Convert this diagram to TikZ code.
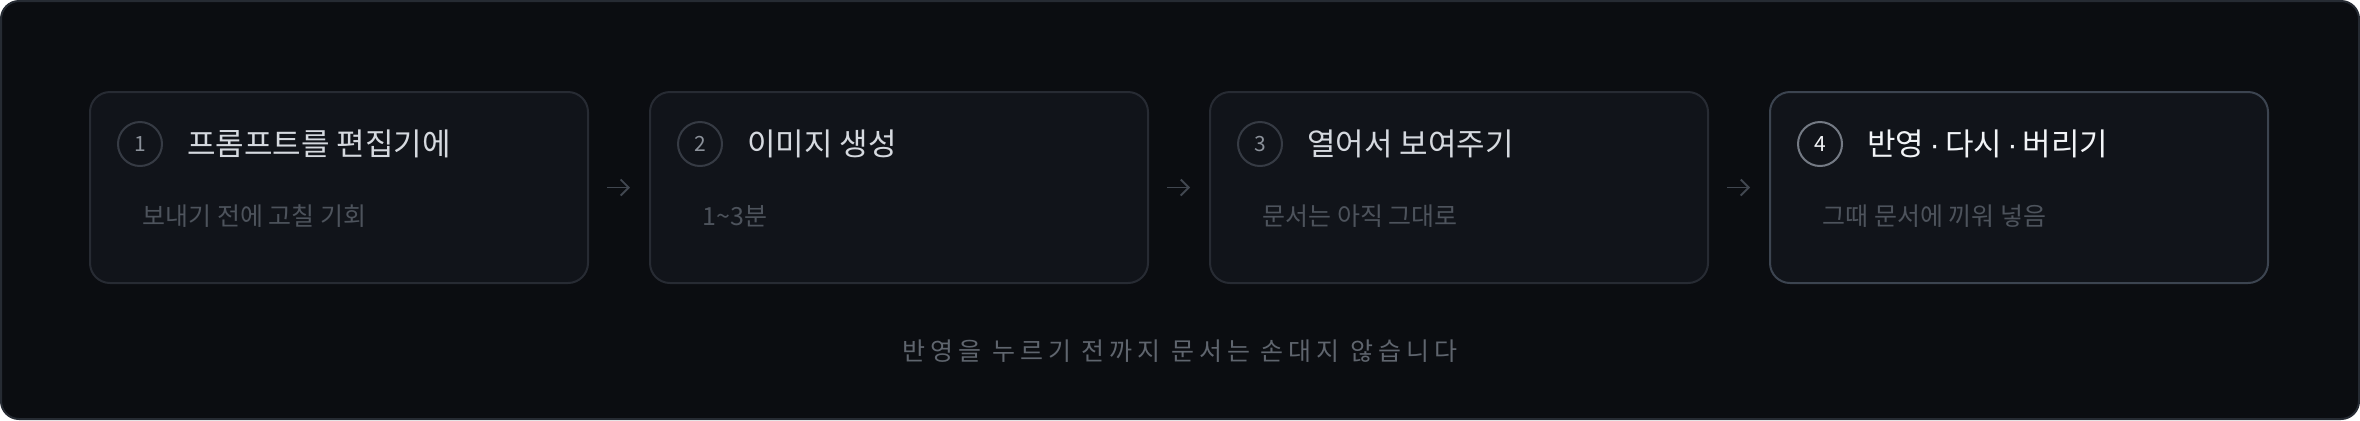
\documentclass[tikz,border=0pt]{standalone}
\usepackage{fontspec}
\setmainfont{Noto Sans CJK KR}
\newfontfamily\spacedfont[LetterSpace=20]{Noto Sans CJK KR}
\newfontfamily\dotfont{Liberation Sans}
\usetikzlibrary{positioning,arrows.meta}

\definecolor{panelbg}{HTML}{0B0D11}
\definecolor{panelline}{HTML}{262B33}
\definecolor{boxfill}{HTML}{11141A}
\definecolor{boxline}{HTML}{272B33}
\definecolor{boxlit}{HTML}{3C4450}
\definecolor{ringline}{HTML}{363B44}
\definecolor{ringlit}{HTML}{747A84}
\definecolor{numgray}{HTML}{8B919A}
\definecolor{headgray}{HTML}{D5D9DF}
\definecolor{headlit}{HTML}{F2F4F7}
\definecolor{bodygray}{HTML}{4D535C}
\definecolor{arrowgray}{HTML}{414750}
\definecolor{footgray}{HTML}{5F656E}

\newcommand{\middot}{{\dotfont\,·\,}}

\tikzset{
  step box/.style={
    rectangle,
    rounded corners=10pt,
    fill=boxfill,
    line width=1pt,
    minimum width=249pt,
    minimum height=95.5pt,
    inner sep=0pt,
  },
  box dim/.style={draw=boxline},
  box lit/.style={draw=boxlit},
  num ring/.style={
    circle,
    line width=1pt,
    minimum size=22pt,
    inner sep=0pt,
    font=\fontsize{10.5}{10.5}\selectfont,
  },
  ring dim/.style={draw=ringline, text=numgray},
  ring lit/.style={draw=ringlit, text=headlit},
  step title/.style={inner sep=0pt, font=\fontsize{15.5}{15.5}\selectfont},
  title dim/.style={text=headgray},
  title lit/.style={text=headlit},
  step note/.style={inner sep=0pt, text=bodygray, font=\fontsize{12.5}{12.5}\selectfont},
  step arrow/.style={
    draw=arrowgray,
    line width=0.9pt,
    -{Straight Barb[length=4pt,width=8pt]},
    shorten <=9pt,
    shorten >=9.5pt,
  },
  foot note/.style={inner sep=0pt, text=footgray, font=\spacedfont\fontsize{12.5}{12.5}\selectfont},
}

\begin{document}
\begin{tikzpicture}[x=0.5pt,y=-0.5pt]
\useasboundingbox (0,0) rectangle (2360,420);
\draw[fill=panelbg, draw=panelline, line width=1pt, rounded corners=9pt] (1,1) rectangle (2359,419);

% the four steps
\foreach \i/\kind/\head/\body in {
  1/dim/프롬프트를 편집기에/보내기 전에 고칠 기회,
  2/dim/이미지 생성/1\textasciitilde 3분,
  3/dim/열어서 보여주기/문서는 아직 그대로,
  4/lit/반영\middot 다시\middot 버리기/그때 문서에 끼워 넣음}
{
  \node[step box, box \kind] (box\i) at ({339+(\i-1)*560},187.5) {};
  \node[num ring, ring \kind] (num\i) at ([xshift=25.5pt,yshift=-26.5pt]box\i.north west) {\i};
  \node[step title, title \kind, right=12pt of num\i] (head\i) {\head};
  \node[step note, anchor=west] (body\i) at ([xshift=26.5pt,yshift=-62.5pt]box\i.north west) {\body};
}

\foreach \i [evaluate=\i as \j using int(\i+1)] in {1,2,3}
  \draw[step arrow] (box\i) -- (box\j);

\node[foot note] (footer) at (1180,351) {반영을 누르기 전까지 문서는 손대지 않습니다};
\end{tikzpicture}
\end{document}
